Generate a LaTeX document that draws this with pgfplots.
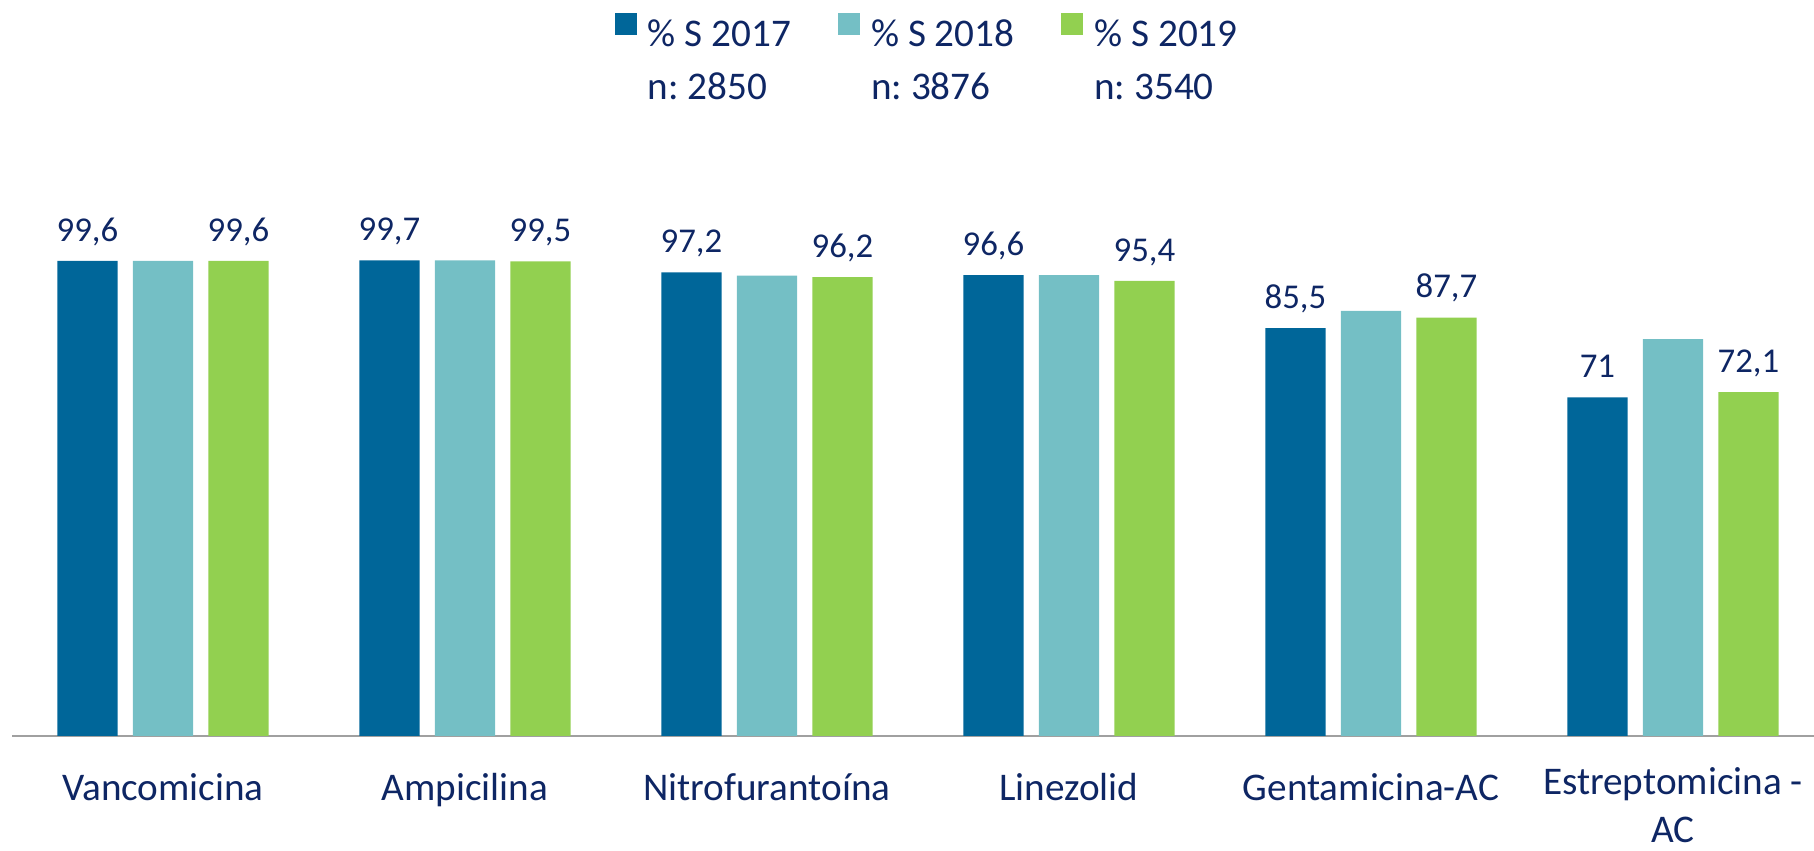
\documentclass[border=0pt]{standalone}
\usepackage{fontspec}
\setmainfont{Carlito}
\usepackage{pgfplots}
\pgfplotsset{compat=1.18}
\definecolor{c17}{RGB}{0,102,153}
\definecolor{c18}{RGB}{116,191,197}
\definecolor{c19}{RGB}{146,208,80}
\definecolor{navy}{RGB}{14,38,100}
\definecolor{axgray}{RGB}{160,160,160}
\newcommand\catfont{\fontsize{9.8}{12}\selectfont}
\newcommand\labfont{\fontsize{8.7}{10}\selectfont}
\pgfplotsset{
  mylegend/.style={legend image code/.code={\fill[##1] (0pt,0pt) rectangle (5.5pt,5.5pt);}},
  mylabels/.style={
    nodes near coords={\pgfmathprintnumber[use comma,fixed,precision=1,assume math mode=true]{\pgfplotspointmeta}},
    every node near coord/.append style={font=\labfont, text=navy, anchor=south, inner sep=0pt, text depth=0pt, yshift=4.75pt}
  }
}
\begin{document}
\begin{tikzpicture}
\begin{axis}[
  scale only axis, width=450.5pt, height=119.25pt,
  ymin=0, ymax=100, xmin=-0.5, xmax=5.467,
  axis x line=bottom, axis y line=none,
  x axis line style={-, draw=axgray, line width=0.5pt},
  xtick={0,...,5},
  xticklabels={Vancomicina, Ampicilina, Nitrofurantoína, Linezolid, Gentamicina-AC, {Estreptomicina -\\AC}},
  major tick length=0pt,
  xticklabel style={font=\catfont, text=navy, align=center, anchor=north, inner sep=0pt, execute at begin node=\strut, yshift=-7.6pt},
  ytick=\empty,
  clip=false,
  legend columns=3,
  legend cell align=left,
  legend style={draw=none, fill=none, inner sep=0pt, outer sep=0pt,
    at={(0.3346,1.5157)}, anchor=north west, font=\catfont, text=navy,
    nodes={inner sep=0pt, text height=7pt, text depth=1pt},
    row sep=5.25pt,
    /tikz/every odd column/.append style={column sep=2.75pt},
    /tikz/every even column/.append style={column sep=11.75pt}},
]
% 2017 bars (left of each group)
\addplot[ybar, bar width=0.2, bar shift=0, fill=c17, draw=none, mylegend, mylabels]
  coordinates {(-0.25,99.6) (0.75,99.7) (1.75,97.2) (2.75,96.6) (3.75,85.5) (4.75,71)};
\addlegendentry{\% S 2017}
% 2018 bars (centre)
\addplot[ybar, bar width=0.2, bar shift=0, fill=c18, draw=none, mylegend]
  coordinates {(0,99.6) (1,99.7) (2,96.5) (3,96.6) (4,89.1) (5,83.2)};
\addlegendentry{\% S 2018}
% 2019 bars (right)
\addplot[ybar, bar width=0.2, bar shift=0, fill=c19, draw=none, mylegend, mylabels]
  coordinates {(0.25,99.6) (1.25,99.5) (2.25,96.2) (3.25,95.4) (4.25,87.7) (5.25,72.1)};
\addlegendentry{\% S 2019}
\addlegendimage{empty legend}\addlegendentry{n:\ 2850}
\addlegendimage{empty legend}\addlegendentry{n:\ 3876}
\addlegendimage{empty legend}\addlegendentry{n:\ 3540}
\coordinate (bl) at (rel axis cs:0,0);
\coordinate (tr) at (rel axis cs:1,1);
\end{axis}
\pgfresetboundingbox
\path[use as bounding box] ([xshift=-3pt,yshift=-28.75pt]bl) rectangle ([yshift=64.75pt]tr);
\end{tikzpicture}
\end{document}
